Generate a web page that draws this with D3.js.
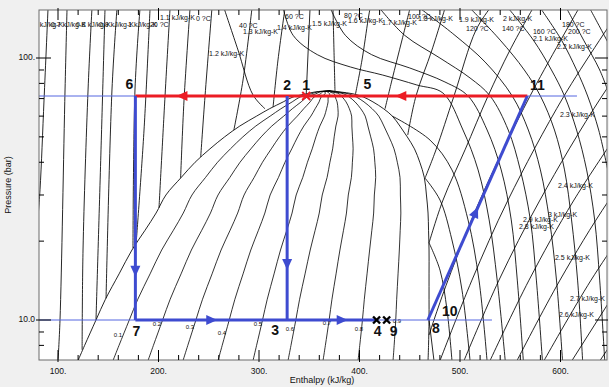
<!DOCTYPE html>
<html><head><meta charset="utf-8">
<script src="https://cdn.jsdelivr.net/npm/d3@7"></script>
<style>
html,body{margin:0;padding:0;background:#f0f0f0;}
svg{display:block;font-family:"Liberation Sans",Arial,sans-serif;}
</style></head><body>
<svg id="c" width="609" height="387"></svg>
<script>
// ---------- saturation dome (h kJ/kg at pressure bar) ----------
const domeP = [7, 8, 10, 12, 15, 18.5, 22, 25.6, 30, 35, 40, 45, 50, 55, 60, 64, 68, 71, 73, 74.2, 74.9];
const domeL = [119.9,126.5,137.8,147.2,160.8,173.6,186.6,197.6,207.4,222.6,236.4,251.2,265.8,280.9,297.6,310.4,324.1,333.8,347.4,355.7,370.6];
const domeV = [468.2,468.7,469.2,469.2,469.2,469.2,468.7,468.2,466.6,464.5,460.0,454.7,447.5,440.2,432.7,424.0,413.4,403.8,393.5,380.6,370.6];
const qualities = [0.1,0.2,0.3,0.4,0.5,0.6,0.7,0.8,0.9];
const qualLabelH = [159.7,198.5,231.3,263.2,299.0,330.8,367.7,399.5,437.3];
const qualLabelP = [8.76,9.65,9.40,8.92,9.65,9.24,9.74,9.24,9.91];

// ---------- isotherms [h, p] ----------
const isoTm40L = [[146.8,155],[142.8,44.6],[137.8,10]];
const isoTm20L = [[191.6,155],[185.6,53.1],[177.8,19.7]];
const isoT0L  = [[231.4,155],[225.4,69.1],[222,34.8]];
const isoT20L = [[265.2,155],[279.1,107.3],[294,72.3],[306,64]];
const isoTm40V = [[469.2,10],[474.1,7]];
const isoTm20V = [[469.2,19.7],[480.1,15.5],[487.1,10.9],[492,7]];
const isoT0V  = [[465.2,34.8],[480.1,28.7],[492,20.2],[502,13],[510,7]];
const isoT20V = [[432.7,60],[470.2,48.6],[492,37.4],[508,24.1],[518.9,14.2],[526.9,7]];
const isoT40  = [[324,155],[334,122],[358,103],[391,92.4],[423,86.1],[457,78.9],[483,73.5],[503,53.1],[518,37.4],[529,24.1],[537,14.2],[545,7]];
const isoT60  = [[371,155],[386,122],[412,103],[450,91.6],[485,81],[508,71.6],[527,53.1],[541,37.4],[551,24.1],[557,14.2],[563,7]];
const isoT80  = [[420,155],[445,122],[480,100],[510,83.9],[530,71.6],[548,53.1],[560,37.4],[570,24.1],[576,14.2],[582,7]];
const isoT100 = [[460,155],[495,122],[525,96.5],[552,71.6],[568,53.1],[580,37.4],[589,24.1],[596,14.2],[602,7]];
const isoT120 = [[510,155],[540,117],[564,90],[580,71.6],[594,53.1],[604,37.4],[611,24.1],[617,14.2],[622,7]];
const isoT140 = [[548,155],[573,117],[591,90],[604,71.6],[616,53.1],[626,37.4],[634,24.1],[639,14.2],[644,7]];
const isoT160 = [[580,155],[601,117],[616,90],[627,71.6],[638,53.1],[647,37.4]];
const isoT180 = [[606,155],[623,117],[639,90],[649,71.6]];
const isoT200 = [[629,155],[646,117],[661,90]];

// ---------- isentropes [h, p] ----------
const s05 = [[90.1,155],[86.1,69.1],[82.1,31.4],[79.1,22.1]];
const s06 = [[109,155],[107,75.5],[102,10],[100,7]];
const s07 = [[133.8,155],[129.9,75.5],[124.9,18.5],[124,7.7]];
const s08 = [[158.7,155],[153.7,75.5],[147.8,12.1]];
const s09 = [[181.6,155],[176.6,75.5],[174.6,18.8]];
const s10 = [[211.5,155],[206.5,71.6],[200.5,26.8]];
const s11 = [[253.2,155],[246.3,71.6],[242,41.9]];
const s12 = [[293,155],[284.1,82.4],[275,53.1]];
const s13 = [[325.9,155],[318.9,98.3],[314,65]];
const s14 = [[350.8,155],[347,73]];
const s15 = [[373.6,155],[374.6,107.3],[375.6,74.9]];
const s16 = [[410.5,155],[408.5,139.7],[402.5,98.3],[396,72.8]];
const s17 = [[450.3,155],[442.3,117.2],[432.3,82.4],[425.4,64]];
const s18 = [[485.1,155],[472.1,107.3],[456.2,71.6],[448,50.8]];
const s19 = [[529.9,155],[515.9,127.9],[494,71.6],[476.1,44.6],[465.2,34.8]];
const s20 = [[572.6,155],[549.8,107.3],[527.9,71.6],[505,44.6],[483.1,28.7],[469.2,19.7]];
const s21 = [[618.4,155],[569.7,71.6],[519.9,28.7],[488.1,14.2],[474.1,10],[469.2,8.76]];
const s22 = [[660.2,155],[603.5,71.6],[547.8,28.7],[511.9,14.2],[480.1,7]];
const s23 = [[704,155],[641.3,71.6],[579.6,28.7],[538.8,14.2],[504,7]];
const s24 = [[682.1,71.6],[613.4,28.7],[568.7,14.2],[529.9,7]];
const s25 = [[723.9,71.6],[648.3,28.7],[599.5,14.2],[556.7,7]];
const s26 = [[684.1,28.7],[630.4,14.2],[583.6,7]];
const s27 = [[662.2,14.2],[611.4,7]];
const s28 = [[693,14.2],[639.3,7]];

// ---------- curve labels ----------
const labelText = ["0.6 kJ/kg-K","0.7 kJ/kg-K","0.8 kJ/kg-K","0.9 kJ/kg-K","1 kJ/kg-K","20 ?C","1.1 kJ/kg-K","0 ?C",
  "1.2 kJ/kg-K","40 ?C","1.3 kJ/kg-K","60 ?C","1.4 kJ/kg-K","1.5 kJ/kg-K","80 ?C","1.6 kJ/kg-K","1.7 kJ/kg-K","100 ?C","1.8 kJ/kg-K",
  "1.9 kJ/kg-K","120 ?C","2 kJ/kg-K","140 ?C","160 ?C","2.1 kJ/kg-K","180 ?C","200 ?C","2.2 kJ/kg-K",
  "2.3 kJ/kg-K","2.4 kJ/kg-K","3 kJ/kg-K","2.9 kJ/kg-K","2.8 kJ/kg-K","2.5 kJ/kg-K","2.7 kJ/kg-K","2.6 kJ/kg-K"];
const labelH = [70.2,93.0,117.9,140.8,169.7,191.5,201.5,237.3,
  250.3,280.1,284.1,325.9,317.9,352.7,384.6,388.6,422.4,448.3,458.2,
  499.0,506.0,542.8,541.8,572.6,572.6,601.5,607.5,596.5,
  599.5,597.5,587.6,562.7,558.7,594.5,609.4,598.5];
const labelP = [133.6,133.6,133.6,133.6,133.6,133.6,142.3,141.0,
  103.6,132.5,125.7,143.4,130.2,134.9,144.6,138.4,136.1,143.4,140.9,
  139.7,129.0,140.9,129.0,125.7,118.2,133.6,125.7,110.2,
  60.6,32.5,25.2,24.1,22.6,17.2,12.0,10.4];

// ---------- cycle ----------
const pHigh = 71.6, pLow = 10;
const pointNames = ["1","2","3","4","5","6","7","8","9","10","11"];
const pointH = [347,328,328,417,402,177,177,468,427,470,567];
const pointP = [71.6,71.6,10,10,71.6,71.6,10,10,10,10,71.6];
const isobarEndH = [616.4, 531.8];   // thin reference isobars at pHigh, pLow
const xTicks = [100,200,300,400,500,600];
const yTicks = [10,100];

// ================= drawing =================
const W=609,H=387,L=39,R=607,T=10,B=360;
const x=d3.scaleLinear().domain([100,600]).range([58,560.5]);
const y=d3.scaleLog().domain([10,100]).range([320,58]);
const svg=d3.select("#c");
svg.append("rect").attr("width",W).attr("height",H).attr("fill","#f0f0f0");
svg.append("rect").attr("x",L).attr("y",T).attr("width",R-L).attr("height",B-T).attr("fill","#fff");
svg.append("defs").append("clipPath").attr("id","clip").append("rect")
  .attr("x",L).attr("y",T).attr("width",R-L).attr("height",B-T);
const g=svg.append("g").attr("clip-path","url(#clip)");
const line=d3.line().x(d=>x(d[0])).y(d=>y(d[1])).curve(d3.curveCatmullRom.alpha(0.5));
const bg=[isoTm40L,isoTm20L,isoT0L,isoT20L,isoTm40V,isoTm20V,isoT0V,isoT20V,isoT40,isoT60,isoT80,isoT100,isoT120,isoT140,isoT160,isoT180,isoT200,
  s05,s06,s07,s08,s09,s10,s11,s12,s13,s14,s15,s16,s17,s18,s19,s20,s21,s22,s23,s24,s25,s26,s27,s28];
bg.forEach(c=>g.append("path").attr("d",line(c)).attr("fill","none").attr("stroke","#000").attr("stroke-width",0.85));
// dome
const domePts=domeP.map((p,i)=>[domeL[i],p]).concat(domeP.map((p,i)=>[domeV[i],p]).reverse().slice(1));
g.append("path").attr("d",line(domePts)).attr("fill","none").attr("stroke","#000").attr("stroke-width",0.85);
qualities.forEach(q=>{
  const pts=domeP.map((p,i)=>[domeL[i]+q*(domeV[i]-domeL[i]),p]);
  g.append("path").attr("d",line(pts)).attr("fill","none").attr("stroke","#000").attr("stroke-width",0.8);
});
// labels
labelText.forEach((t,i)=>g.append("text").attr("x",x(labelH[i])).attr("y",y(labelP[i]))
  .attr("dominant-baseline","middle").attr("font-size",7).attr("fill","#111").text(t));
qualities.forEach((q,i)=>g.append("text").attr("x",x(qualLabelH[i])).attr("y",y(qualLabelP[i]))
  .attr("text-anchor","middle").attr("dominant-baseline","middle").attr("font-size",6).attr("fill","#111").text(q.toFixed(1)));

// thin isobars
const hLeft=x.invert(L);
[pHigh,pLow].forEach((p,i)=>g.append("line").attr("x1",x(hLeft)).attr("x2",x(isobarEndH[i]))
  .attr("y1",y(p)).attr("y2",y(p)).attr("stroke","#5566e0").attr("stroke-width",1));

const P={}; pointNames.forEach((n,i)=>P[n]=[x(pointH[i]),y(pointP[i])]);
const BLUE="#3e4bd0", RED="#ec1c24";
function seg(a,b,c){g.append("line").attr("x1",P[a][0]).attr("y1",P[a][1]).attr("x2",P[b][0]).attr("y2",P[b][1])
  .attr("stroke",c).attr("stroke-width",3);}
seg("11","6",RED);
seg("6","7",BLUE); seg("2","3",BLUE); seg("7","4",BLUE); seg("8","11",BLUE);
const arrows=[["11","1",0.57,RED],["2","6",0.69,RED],["6","7",0.78,BLUE],["2","3",0.75,BLUE],["7","3",0.5,BLUE],["3","4",0.61,BLUE],["8","11",0.48,BLUE]];
arrows.forEach(([a,b,f,c])=>{
  const ax=P[a][0]+(P[b][0]-P[a][0])*f, ay=P[a][1]+(P[b][1]-P[a][1])*f;
  const ang=Math.atan2(P[b][1]-P[a][1],P[b][0]-P[a][0])*180/Math.PI;
  g.append("path").attr("d","M6,0L-5,-5L-5,5Z").attr("fill",c)
   .attr("transform",`translate(${ax},${ay}) rotate(${ang})`);
});
function xmark(n,c,s,w){const [px,py]=P[n];
  g.append("path").attr("d",`M${px-s},${py-s}L${px+s},${py+s}M${px-s},${py+s}L${px+s},${py-s}`)
   .attr("stroke",c).attr("stroke-width",w).attr("fill","none");}
xmark("1",RED,4,2); xmark("4","#000",3.5,2.4); xmark("9","#000",3.5,2.4);
const off={"1":[0,-10],"2":[0,-10],"3":[-12,11],"4":[1,12],"5":[6,-11],"6":[-6,-11],"7":[1,12],"8":[8,9],"9":[7,12],"10":[20,-8],"11":[10,-10]};
pointNames.forEach(n=>svg.append("text").attr("x",P[n][0]+off[n][0]).attr("y",P[n][1]+off[n][1])
  .attr("text-anchor","middle").attr("dominant-baseline","middle").attr("font-size",14).attr("font-weight","bold")
  .attr("fill","#111").text(n));

// frame & ticks
const ax=svg.append("g");
ax.append("rect").attr("x",L).attr("y",T).attr("width",R-L).attr("height",B-T).attr("fill","none").attr("stroke","#6a6a6a").attr("stroke-width",1);
d3.range(100,601,20).forEach(v=>{
  const maj=v%100===0, len=maj?10:5, px=x(v);
  ax.append("line").attr("x1",px).attr("x2",px).attr("y1",B+(maj?2:0)).attr("y2",B-len).attr("stroke","#000");
  ax.append("line").attr("x1",px).attr("x2",px).attr("y1",T-(maj?2:0)).attr("y2",T+len).attr("stroke","#000");
});
[8,9,10,20,30,40,50,60,70,80,90,100].forEach(v=>{
  const maj=yTicks.includes(v), len=maj?12:5, py=y(v);
  ax.append("line").attr("x1",L-(maj?3:0)).attr("x2",L+len).attr("y1",py).attr("y2",py).attr("stroke","#000");
  ax.append("line").attr("x1",R+(maj?1:0)).attr("x2",R-len).attr("y1",py).attr("y2",py).attr("stroke","#000");
});
xTicks.forEach(v=>ax.append("text").attr("x",x(v)).attr("y",372).attr("text-anchor","middle")
  .attr("dominant-baseline","middle").attr("font-size",8.5).attr("fill","#111").text(v+"."));
ax.append("text").attr("x",35).attr("y",y(100)).attr("text-anchor","end").attr("dominant-baseline","middle")
  .attr("font-size",8.5).attr("fill","#111").text("100.");
ax.append("text").attr("x",35).attr("y",y(10)).attr("text-anchor","end").attr("dominant-baseline","middle")
  .attr("font-size",8.5).attr("fill","#111").text("10.0");
ax.append("text").attr("x",322).attr("y",381).attr("text-anchor","middle").attr("dominant-baseline","middle")
  .attr("font-size",9).attr("fill","#111").text("Enthalpy (kJ/kg)");
ax.append("text").attr("transform","translate(9,185) rotate(-90)").attr("text-anchor","middle").attr("dominant-baseline","middle")
  .attr("font-size",9).attr("fill","#111").text("Pressure (bar)");
</script></body></html>
